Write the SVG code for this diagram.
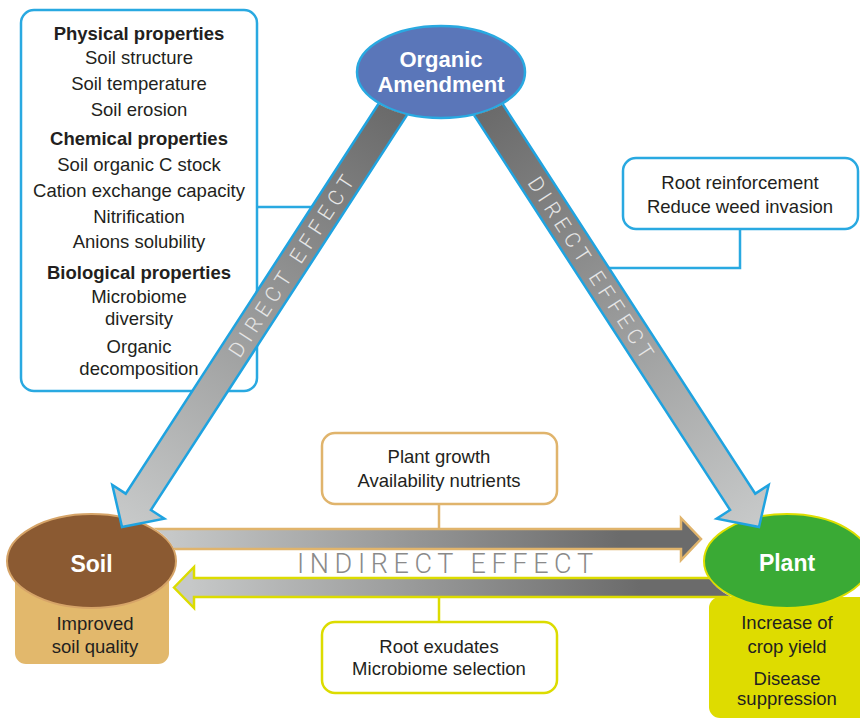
<svg xmlns="http://www.w3.org/2000/svg" width="860" height="719" viewBox="0 0 860 719">
<style>
.t{font-family:"Liberation Sans",Arial,sans-serif;font-size:18.5px;fill:#231f20;text-anchor:middle}
.b{font-weight:bold}
.w{font-family:"Liberation Sans",Arial,sans-serif;font-weight:bold;fill:#ffffff;text-anchor:middle}
.blue{fill:#ffffff;stroke:#29a9e1;stroke-width:2.5}
.callb{fill:none;stroke:#29a9e1;stroke-width:2.5}
.de{font-family:Roboto,"Liberation Sans",sans-serif;font-weight:300;font-size:21px;fill:#e6e6e6;text-anchor:middle}
</style>
<defs>
<linearGradient id="gDir" x1="0" y1="0" x2="1" y2="0">
<stop offset="0" stop-color="#666666"/>
<stop offset="1" stop-color="#c8caca"/>
</linearGradient>
<linearGradient id="gTop" gradientUnits="userSpaceOnUse" x1="170" y1="0" x2="620" y2="0">
<stop offset="0" stop-color="#c6c8c8"/>
<stop offset="1" stop-color="#6b6b6b"/>
</linearGradient>
<linearGradient id="gBot" gradientUnits="userSpaceOnUse" x1="190" y1="0" x2="640" y2="0">
<stop offset="0" stop-color="#c6c8c8"/>
<stop offset="1" stop-color="#6b6b6b"/>
</linearGradient>
<mask id="mSoil" maskUnits="userSpaceOnUse" x="0" y="0" width="860" height="719">
<rect width="860" height="719" fill="#ffffff"/>
<ellipse cx="91.5" cy="561" rx="85.5" ry="48" fill="#000000"/>
</mask>
<mask id="mPlant" maskUnits="userSpaceOnUse" x="0" y="0" width="860" height="719">
<rect width="860" height="719" fill="#ffffff"/>
<ellipse cx="787" cy="561" rx="84" ry="48" fill="#000000"/>
</mask>
<mask id="mOrg" maskUnits="userSpaceOnUse" x="0" y="0" width="860" height="719">
<rect width="860" height="719" fill="#ffffff"/>
<ellipse cx="441" cy="72" rx="85" ry="47" fill="#000000"/>
</mask>
</defs>
<rect width="860" height="719" fill="#ffffff"/>

<g id="props-box">
<rect x="21" y="10" width="236" height="381" rx="13" class="blue"/>
<text class="t b" x="139" y="40">Physical properties</text>
<text class="t" x="139" y="64">Soil structure</text>
<text class="t" x="139" y="90">Soil temperature</text>
<text class="t" x="139" y="116">Soil erosion</text>
<text class="t b" x="139" y="145">Chemical properties</text>
<text class="t" x="139" y="171">Soil organic C stock</text>
<text class="t" x="139" y="197">Cation exchange capacity</text>
<text class="t" x="139" y="223">Nitrification</text>
<text class="t" x="139" y="248">Anions solubility</text>
<text class="t b" x="139" y="279">Biological properties</text>
<text class="t" x="139" y="303">Microbiome</text>
<text class="t" x="139" y="325">diversity</text>
<text class="t" x="139" y="353">Organic</text>
<text class="t" x="139" y="375">decomposition</text>
</g>

<g id="root-box">
<rect x="623" y="158" width="235" height="71" rx="13" class="blue"/>
<text class="t" x="740" y="189">Root reinforcement</text>
<text class="t" x="740" y="213">Reduce weed invasion</text>
</g>

<g id="growth-box">
<rect x="322" y="433" width="235" height="71" rx="13" fill="#ffffff" stroke="#e0b46c" stroke-width="2.5"/>
<text class="t" x="439" y="463">Plant growth</text>
<text class="t" x="439" y="487">Availability nutrients</text>
</g>

<g id="exudates-box">
<rect x="322" y="622" width="235" height="71" rx="13" fill="#ffffff" stroke="#dcdc00" stroke-width="2.5"/>
<text class="t" x="439" y="653">Root exudates</text>
<text class="t" x="439" y="675">Microbiome selection</text>
</g>

<g id="soil">
<rect x="15" y="561" width="154" height="103" rx="11" fill="#e2b86c"/>
<ellipse cx="91.5" cy="561" rx="84.5" ry="47" fill="#8b5a32" stroke="#d6a468" stroke-width="2"/>
<text class="w" x="91.5" y="572" font-size="23">Soil</text>
<text class="t" x="95" y="630">Improved</text>
<text class="t" x="95" y="653">soil quality</text>
</g>

<g id="plant">
<rect x="709" y="597" width="170" height="121" rx="11" fill="#dedc00"/>
<ellipse cx="787" cy="561" rx="83" ry="47" fill="#3aaa35" stroke="#dede00" stroke-width="2"/>
<text class="w" x="787" y="571" font-size="23">Plant</text>
<text class="t" x="787" y="629">Increase of</text>
<text class="t" x="787" y="653">crop yield</text>
<text class="t" x="787" y="685">Disease</text>
<text class="t" x="787" y="705">suppression</text>
</g>

<g id="organic-amendment">
<ellipse cx="441" cy="72" rx="84" ry="46" fill="#5a76b9" stroke="#29a9e1" stroke-width="2.5"/>
<text class="w" x="441" y="67" font-size="22">Organic</text>
<text class="w" x="441" y="92" font-size="22">Amendment</text>
</g>

<g id="connectors">
<polyline class="callb" points="257,207 322,207"/>
<polyline class="callb" points="740,229 740,268 600,268"/>
<line x1="439" y1="504" x2="439" y2="530" stroke="#e0b46c" stroke-width="2.5"/>
<line x1="439" y1="596" x2="439" y2="622" stroke="#dcdc00" stroke-width="2.5"/>
<polygon mask="url(#mSoil)" points="80,529 681,529 681,518 701,539 681,560 681,549 80,549" fill="url(#gTop)" stroke="#e0b46c" stroke-width="2.5" stroke-linejoin="miter"/>
<polygon mask="url(#mPlant)" points="174,587.5 194,567 194,578 800,578 800,597 194,597 194,608" fill="url(#gBot)" stroke="#dcdc00" stroke-width="2.5"/>
<text x="297" y="573" textLength="296" lengthAdjust="spacing" font-family="Roboto,'Liberation Sans',sans-serif" font-weight="300" font-size="27" fill="#8a8a8a">INDIRECT EFFECT</text>
<g mask="url(#mOrg)">
<polygon transform="translate(122,527) rotate(122.96) translate(-520,0)" points="0,-15 490,-15 490,-31 520,0 490,31 490,15 0,15" fill="url(#gDir)" stroke="#1fa3e0" stroke-width="2.5"/>
<polygon transform="translate(759,527) rotate(57.04) translate(-520,0)" points="0,-15 490,-15 490,-31 520,0 490,31 490,15 0,15" fill="url(#gDir)" stroke="#1fa3e0" stroke-width="2.5"/>
</g>
<text class="de" transform="translate(291.2,266.1) rotate(-57.04)" x="0" y="7.5" textLength="212" lengthAdjust="spacing">DIRECT EFFECT</text>
<text class="de" transform="translate(590.9,267.7) rotate(57.04)" x="0" y="7.5" textLength="212" lengthAdjust="spacing">DIRECT EFFECT</text>
</g>
</svg>
